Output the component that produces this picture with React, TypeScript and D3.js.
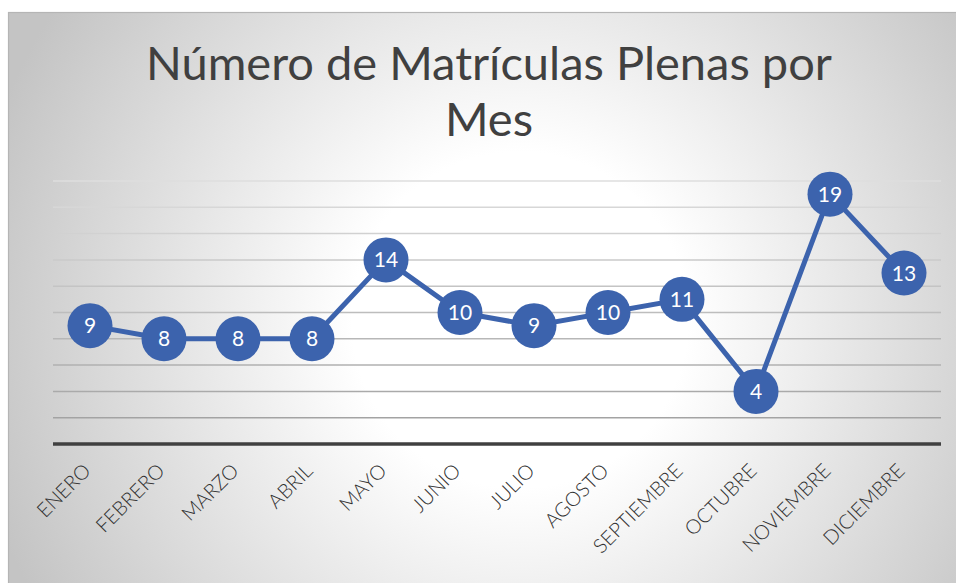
import React, { useEffect, useRef } from 'react';
import * as d3 from 'd3';

const months = ["ENERO", "FEBRERO", "MARZO", "ABRIL", "MAYO", "JUNIO", "JULIO", "AGOSTO", "SEPTIEMBRE", "OCTUBRE", "NOVIEMBRE", "DICIEMBRE"];
const values = [9, 8, 8, 8, 14, 10, 9, 10, 11, 4, 19, 13];
const gridTicks = [0, 2, 4, 6, 8, 10, 12, 14, 16, 18, 20];
const titleLines = ["Número de Matrículas Plenas por", "Mes"];

const App: React.FC = () => {
  const ref = useRef<SVGSVGElement | null>(null);

  useEffect(() => {
    if (!ref.current) return;
    const W = 956, H = 583;
    const svg = d3.select(ref.current);
    svg.selectAll("*").remove();

    const defs = svg.append("defs");
    const grad = defs.append("radialGradient")
      .attr("id", "bg")
      .attr("gradientUnits", "userSpaceOnUse")
      .attr("cx", 520).attr("cy", 320).attr("r", 560);
    grad.append("stop").attr("offset", "0").attr("stop-color", "#ffffff");
    grad.append("stop").attr("offset", "0.3").attr("stop-color", "#ffffff");
    grad.append("stop").attr("offset", "1").attr("stop-color", "#c4c4c4");

    // chart area frame
    svg.append("rect")
      .attr("x", 8.5).attr("y", 12.5)
      .attr("width", W).attr("height", H)
      .attr("fill", "url(#bg)")
      .attr("stroke", "#b5b5b5")
      .attr("stroke-width", 1.2);

    const left = 53, right = 941, top = 181, bottom = 444;

    const x = d3.scaleBand().domain(months).range([left, right]);
    const y = d3.scaleLinear().domain([0, 20]).range([bottom, top]);
    const shade = d3.scaleLinear<string>().domain([2, 20]).range(["#a3a3a3", "#dedede"]);

    // title
    svg.append("g")
      .selectAll("text")
      .data(titleLines)
      .join("text")
      .attr("x", 489)
      .attr("y", (d, i) => 80 + i * 56)
      .attr("text-anchor", "middle")
      .attr("font-family", "Lato, sans-serif")
      .attr("font-size", 47)
      .attr("fill", "#404040")
      .text(d => d);

    // gridlines
    svg.append("g")
      .selectAll("line")
      .data(gridTicks.filter(t => t > 0))
      .join("line")
      .attr("x1", left).attr("x2", right)
      .attr("y1", d => y(d)).attr("y2", d => y(d))
      .attr("stroke", d => shade(d))
      .attr("stroke-width", 1.5);

    // baseline
    svg.append("line")
      .attr("x1", left).attr("x2", right)
      .attr("y1", y(0)).attr("y2", y(0))
      .attr("stroke", "#404040")
      .attr("stroke-width", 3.5);

    const cx = (m: string) => (x(m) || 0) + x.bandwidth() / 2;

    // category labels
    svg.append("g")
      .selectAll("text")
      .data(months)
      .join("text")
      .attr("transform", d => `translate(${cx(d) + 2},${y(0) + 28}) rotate(-45)`)
      .attr("text-anchor", "end")
      .attr("font-family", "Lato, sans-serif")
      .attr("font-weight", 300)
      .attr("font-size", 20)
      .attr("fill", "#303030")
      .text(d => d);

    const pts = months.map((m, i) => ({ m, v: values[i] }));

    const line = d3.line<{ m: string; v: number }>()
      .x(d => cx(d.m))
      .y(d => y(d.v));

    svg.append("path")
      .datum(pts)
      .attr("d", line)
      .attr("fill", "none")
      .attr("stroke", "#3c63ad")
      .attr("stroke-width", 5)
      .attr("stroke-linejoin", "round");

    const nodes = svg.append("g")
      .selectAll("g")
      .data(pts)
      .join("g")
      .attr("transform", d => `translate(${cx(d.m)},${y(d.v)})`);

    nodes.append("circle")
      .attr("r", 22.5)
      .attr("fill", "#3c63ad");

    nodes.append("text")
      .attr("text-anchor", "middle")
      .attr("dy", "0.36em")
      .attr("font-family", "Lato, sans-serif")
      .attr("font-size", 21)
      .attr("fill", "#ffffff")
      .text(d => d.v);
  }, []);

  return (
    <svg ref={ref} width={956} height={583} style={{ position: "absolute", left: 0, top: 0 }} />
  );
};

export default App;
